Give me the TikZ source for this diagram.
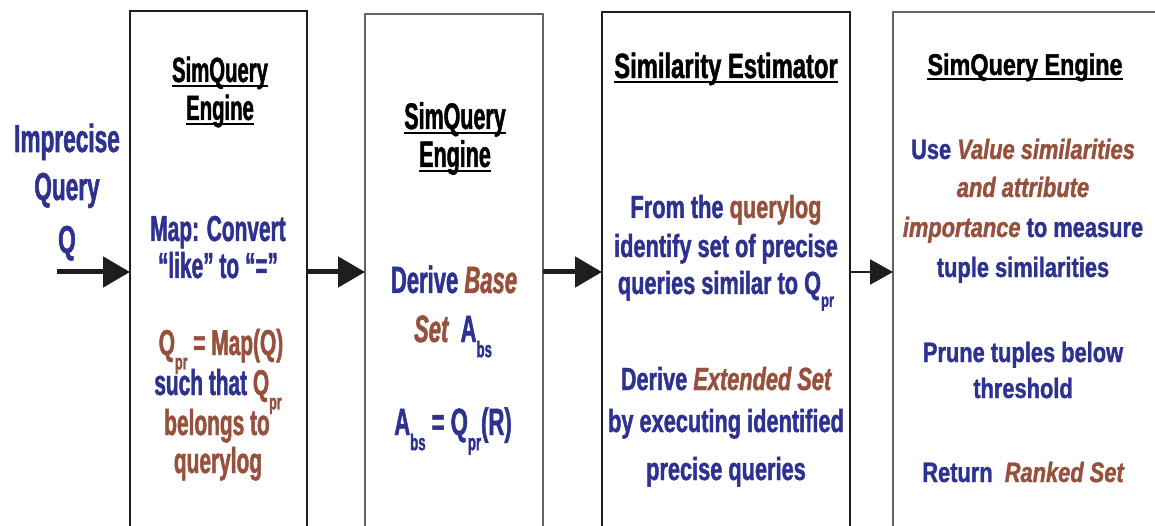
\documentclass[tikz,border=0pt]{standalone}
\usepackage{fontspec}
\usepackage{graphicx}
\setmainfont{Liberation Sans}
\newfontfamily\condA{Liberation Sans}[FakeStretch=0.58, FakeBold=1.3]
\newfontfamily\condC{Liberation Sans}[FakeStretch=0.68, FakeBold=1.3]
\newfontfamily\condD{Liberation Sans}[FakeStretch=0.78, FakeBold=1.3]
\usetikzlibrary{arrows.meta, calc}
\definecolor{qblue}{RGB}{45,50,145}
\definecolor{qbrown}{RGB}{150,80,60}
\definecolor{inkblack}{RGB}{30,30,30}
\definecolor{edgegray}{RGB}{100,100,100}
\newcommand{\hl}[1]{{\color{qbrown}#1}}
\newcommand{\hli}[1]{{\color{qbrown}\itshape #1}}
\newcommand{\lsub}[1]{\raisebox{-0.4em}{\scalebox{0.6}{#1}}}
\newcommand{\fA}[1]{\condA\bfseries\fontsize{#1}{#1}\selectfont}
\newcommand{\fC}[1]{\condC\bfseries\fontsize{#1}{#1}\selectfont}
\newcommand{\fD}[1]{\condD\bfseries\fontsize{#1}{#1}\selectfont}
\tikzset{
  heavybox/.style={draw=inkblack, line width=2.5pt, inner sep=0, outer sep=0, anchor=north west},
  lightbox/.style={draw=edgegray, line width=1.2pt, inner sep=0, outer sep=0, anchor=north west},
  txt/.style={inner sep=0, anchor=base, text=qblue},
  head/.style={inner sep=0, anchor=base, text=black},
  uline/.style={draw=black, line width=1.8pt},
  flow/.style={draw=inkblack, line width=5pt, -{Triangle[length=27pt,width=30pt]}},
  thinflow/.style={draw=inkblack, line width=2.5pt, -{Triangle[length=23pt,width=25pt]}}
}

\begin{document}
\begin{tikzpicture}[x=1pt, y=-1pt]
    \useasboundingbox (0,0) rectangle (1155,526);
    \fill[white] (0,0) rectangle (1155,526);
    \clip (0,0) rectangle (1155,526);

    % Input query
    \node[txt, font=\fA{39}] (imp1) at (67,152) {Imprecise};
    \node[txt, font=\fA{39}] (imp2) at (67,200) {Query};
    \node[txt, font=\fA{39}] (imp3) at (67,253) {Q};
    \coordinate (qin) at (57,272);

    % Stage 1: map
    \node[heavybox, minimum width=177pt, minimum height=522pt] (box1) at (130,11) {};
    \node[head, font=\fA{35}] (h1a) at (220,82) {SimQuery};
    \node[head, font=\fA{35}] (h1b) at (220,120) {Engine};
    \node[txt, font=\fA{36}] (m1) at (218,241) {Map: Convert};
    \node[txt, font=\fA{36}] (m2) at (218,278) {“like” to “=”};
    \node[txt, font=\fA{36}] (m3) at (221,355) {\hl{Q\lsub{pr} = Map(Q)}};
    \node[txt, font=\fA{36}] (m4) at (218,395) {such that \hl{Q\lsub{pr}}};
    \node[txt, font=\fA{36}] (m5) at (217,435) {\hl{belongs to}};
    \node[txt, font=\fA{36}] (m6) at (218,473) {\hl{querylog}};

    % Stage 2: base set
    \node[lightbox, minimum width=178pt, minimum height=516pt] (box2) at (365,14) {};
    \node[head, font=\fA{37}] (h2a) at (455,129) {SimQuery};
    \node[head, font=\fA{37}] (h2b) at (455,167) {Engine};
    \node[txt, font=\fA{38}] (d1) at (454,293) {Derive \hli{Base}};
    \node[txt, font=\fA{38}] (d2) at (453,342) {\hli{Set}~ A\lsub{bs}};
    \node[txt, font=\fA{38}] (d3) at (453,435) {A\lsub{bs} = Q\lsub{pr}(R)};

    % Stage 3: similarity estimator
    \node[heavybox, minimum width=248pt, minimum height=520pt] (box3) at (602,12) {};
    \node[head, font=\fC{35}] (h3) at (726,78) {Similarity Estimator};
    \node[txt, font=\fC{32}] (s1) at (726,218) {From the \hl{querylog}};
    \node[txt, font=\fC{32}] (s2) at (726,257) {identify set of precise};
    \node[txt, font=\fC{32}] (s3) at (726,294) {queries similar to Q\lsub{pr}};
    \node[txt, font=\fC{32}] (s4) at (726,390) {Derive \hli{Extended Set}};
    \node[txt, font=\fC{32}] (s5) at (726,432) {by executing identified};
    \node[txt, font=\fC{32}] (s6) at (726,480) {precise queries};

    % Stage 4: ranking
    \node[lightbox, minimum width=280pt, minimum height=520pt] (box4) at (893,12) {};
    \node[head, font=\fD{30}] (h4) at (1025,75) {SimQuery Engine};
    \node[txt, font=\fD{28}] (v1) at (1023,159) {Use \hli{Value similarities}};
    \node[txt, font=\fD{28}] (v2) at (1023,197) {\hli{and attribute}};
    \node[txt, font=\fD{28}] (v3) at (1023,237) {\hli{importance} to measure};
    \node[txt, font=\fD{28}] (v4) at (1023,277) {tuple similarities};
    \node[txt, font=\fD{28}] (v5) at (1023,362) {Prune tuples below};
    \node[txt, font=\fD{28}] (v6) at (1023,398) {threshold};
    \node[txt, font=\fD{28}] (v7) at (1023,482) {Return~ \hli{Ranked Set}};

    % Underlined titles
    \foreach \h in {h1a,h1b,h2a,h2b,h3,h4}
        \draw[uline] ($(\h.base west)+(0,4)$) -- ($(\h.base east)+(0,4)$);

    % Flow
    \draw[flow] (qin) -- (box1.west);
    \draw[flow] (box1.east) -- (box2.west);
    \draw[flow] (box2.east) -- (box3.west);
    \draw[thinflow] (box3.east) -- (box4.west);
\end{tikzpicture}
\end{document}
